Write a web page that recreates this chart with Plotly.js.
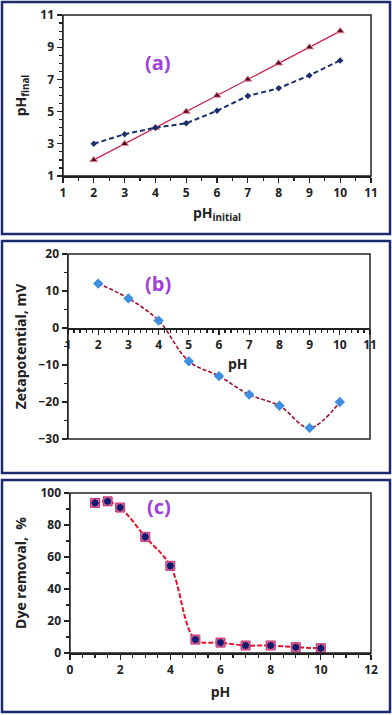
<!DOCTYPE html>
<html>
<head>
<meta charset="utf-8">
<script src="https://cdn.plot.ly/plotly-3.0.1.min.js"></script>
<style>
  html, body { margin: 0; padding: 0; background: #fff; }
  #chart { width: 392px; height: 715px; }
</style>
</head>
<body>
<div id="chart"></div>
<script>
// (a) pH drift
var phInitial = [2, 3, 4, 5, 6, 7, 8, 9, 10];
var phBlank = [2, 3, 4, 5, 6, 7, 8, 9, 10];
var phFinal = [3, 3.6, 4, 4.27, 5.05, 5.97, 6.45, 7.25, 8.18];

// (b) zeta potential
var zetaPh = [2, 3, 4, 5, 6, 7, 8, 9, 10];
var zetaMv = [12, 8, 2, -9, -13, -18, -21, -27, -20];

// (c) dye removal
var dyePh = [1, 1.5, 2, 3, 4, 5, 6, 7, 8, 9, 10];
var dyeRemoval = [93.8, 94.8, 90.9, 72.6, 54.5, 8.4, 6.5, 4.7, 4.7, 3.6, 3.0];

var W = 392, H = 715;
function px2y(p) { return 1 - p / H; }

var tickFont = {family: "Open Sans, sans-serif", size: 12, color: "#222", weight: 700};
var titleFont = {family: "Open Sans, sans-serif", size: 14, color: "#222", weight: 700};
var labelFont = {family: "Open Sans, sans-serif", size: 20, color: "#a040d8", weight: 700};

var data = [
  {x: phInitial, y: phBlank, xaxis: "x", yaxis: "y", mode: "lines+markers",
   line: {color: "#c8234a", width: 1.3},
   marker: {symbol: "triangle-up", size: 7, color: "#5a0a18", line: {color: "#e88aa0", width: 1}}},
  {x: phInitial, y: phFinal, xaxis: "x", yaxis: "y", mode: "lines+markers",
   line: {color: "#1b2e6e", width: 2, dash: "5px,3px"},
   marker: {symbol: "diamond", size: 5, color: "#1b2e6e"}},
  {x: zetaPh, y: zetaMv, xaxis: "x2", yaxis: "y2", mode: "lines+markers",
   line: {color: "#a0102a", width: 1.6, dash: "4px,2px", shape: "spline"},
   marker: {symbol: "diamond", size: 8, color: "#3f8fe0"}},
  {x: dyePh, y: dyeRemoval, xaxis: "x3", yaxis: "y3", mode: "lines+markers",
   line: {color: "#e8102a", width: 2, dash: "5px,2px", shape: "spline"},
   marker: {symbol: "square", size: 9, color: "#d86a9a", line: {color: "#c83070", width: 1}}},
  {x: dyePh, y: dyeRemoval, xaxis: "x3", yaxis: "y3", mode: "markers",
   marker: {symbol: "asterisk", size: 6, color: "#101a70", line: {color: "#101a70", width: 2}}}
];

function axisBase(extra) {
  var a = {
    showgrid: false, zeroline: false, showline: true, linecolor: "#222", linewidth: 1.5,
    ticks: "outside", ticklen: 5, tickcolor: "#222", tickwidth: 1.2,
    tickfont: tickFont, fixedrange: true
  };
  for (var k in extra) a[k] = extra[k];
  return a;
}

var yaDom = [px2y(176), px2y(15)];
var ybDom = [px2y(439), px2y(254)];
var ycDom = [px2y(653), px2y(493)];
var ybRange = [-30, 20];
var zeroPos = ybDom[0] + (0 - ybRange[0]) / (ybRange[1] - ybRange[0]) * (ybDom[1] - ybDom[0]);

var layout = {
  width: W, height: H,
  margin: {l: 0, r: 0, t: 0, b: 0},
  paper_bgcolor: "#fff", plot_bgcolor: "#fff",
  showlegend: false,
  font: {family: "Open Sans, sans-serif", weight: 700},
  xaxis: axisBase({domain: [63 / W, 371 / W], anchor: "y", range: [1, 11], dtick: 1, tick0: 1,
    minor: {dtick: 0.5, ticks: "outside", ticklen: 3, tickcolor: "#222"},
    title: {text: "pH<sub>initial</sub>", font: titleFont, standoff: 8}}),
  yaxis: axisBase({domain: yaDom, anchor: "x", range: [1, 11], dtick: 2, tick0: 1,
    minor: {dtick: 0.5, ticks: "outside", ticklen: 3, tickcolor: "#222"},
    title: {text: "pH<sub>final</sub>", font: titleFont, standoff: 10}}),
  xaxis2: axisBase({domain: [68 / W, 370 / W], anchor: "free", position: zeroPos, range: [1, 11], dtick: 1, tick0: 1,
    minor: {dtick: 0.2, ticks: "outside", ticklen: 3, tickcolor: "#222"}}),
  yaxis2: axisBase({domain: ybDom, anchor: "x2", range: ybRange, dtick: 10,
    minor: {dtick: 5, ticks: "outside", ticklen: 3, tickcolor: "#222"},
    title: {text: "Zetapotential, mV", font: titleFont, standoff: 8}}),
  xaxis3: axisBase({domain: [70 / W, 371 / W], anchor: "y3", range: [0, 12], dtick: 2,
    minor: {dtick: 0.5, ticks: "outside", ticklen: 3, tickcolor: "#222"},
    title: {text: "pH", font: titleFont, standoff: 10}}),
  yaxis3: axisBase({domain: ycDom, anchor: "x3", range: [0, 100], dtick: 20,
    minor: {dtick: 10, ticks: "outside", ticklen: 3, tickcolor: "#222"},
    title: {text: "Dye removal,  %", font: titleFont, standoff: 10}}),
  shapes: [
    // panel borders
    {type: "rect", xref: "paper", yref: "paper", x0: 2 / W, x1: 390 / W, y0: px2y(234), y1: px2y(2), line: {color: "#1a2a6c", width: 2.5}},
    {type: "rect", xref: "paper", yref: "paper", x0: 2 / W, x1: 390 / W, y0: px2y(473), y1: px2y(241), line: {color: "#1a2a6c", width: 2.5}},
    {type: "rect", xref: "paper", yref: "paper", x0: 2 / W, x1: 390 / W, y0: px2y(712), y1: px2y(480), line: {color: "#1a2a6c", width: 2.5}},
    // plot frames
    {type: "rect", xref: "x domain", yref: "y domain", x0: 0, x1: 1, y0: 0, y1: 1, line: {color: "#222", width: 1.5}},
    {type: "rect", xref: "x2 domain", yref: "y2 domain", x0: 0, x1: 1, y0: 0, y1: 1, line: {color: "#222", width: 1.5}},
    {type: "rect", xref: "x3 domain", yref: "y3 domain", x0: 0, x1: 1, y0: 0, y1: 1, line: {color: "#222", width: 1.5}}
  ],
  annotations: [
    {text: "(a)", xref: "paper", yref: "paper", x: 158 / W, y: px2y(47), showarrow: false, font: labelFont},
    {text: "(b)", xref: "paper", yref: "paper", x: 158 / W, y: px2y(283), showarrow: false, font: labelFont},
    {text: "(c)", xref: "paper", yref: "paper", x: 159 / W, y: px2y(522), showarrow: false, font: labelFont},
    {text: "pH", xref: "paper", yref: "paper", x: 238 / W, y: px2y(363), showarrow: false, font: titleFont}
  ]
};

Plotly.newPlot("chart", data, layout, {displayModeBar: false, staticPlot: true});
</script>
</body>
</html>
